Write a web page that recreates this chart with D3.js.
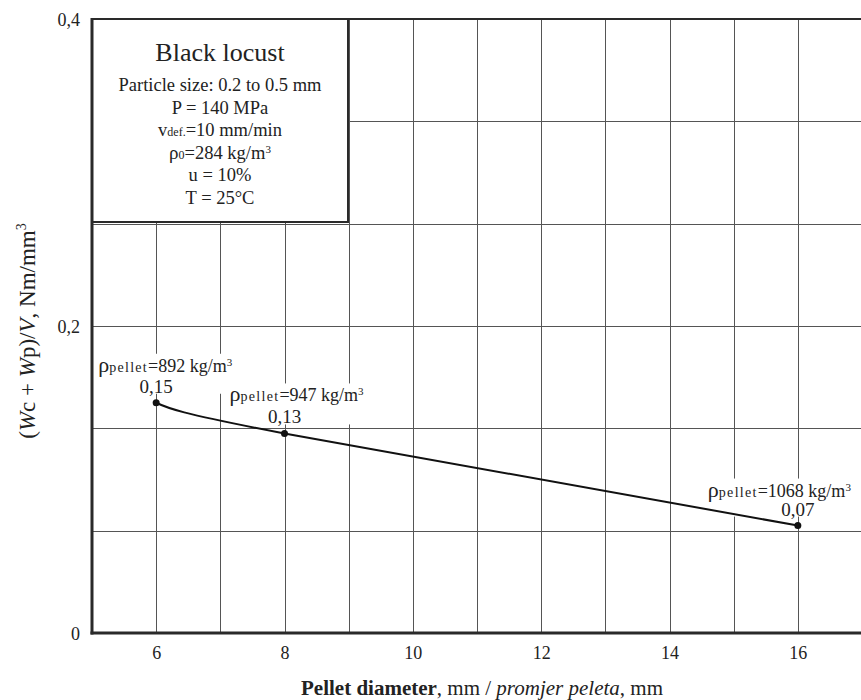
<!DOCTYPE html>
<html>
<head>
<meta charset="utf-8">
<script src="https://cdn.jsdelivr.net/npm/d3@7"></script>
<style>
  html, body { margin: 0; padding: 0; background: #fff; }
  svg { display: block; font-family: "Liberation Serif", "Times New Roman", serif; }
</style>
</head>
<body>
<svg id="chart" width="861" height="700"></svg>
<script>
// Pellet diameter (mm) and specific energy (Nm/mm³)
const diameters = [6, 8, 16];
const energies = [0.15, 0.13, 0.07];
const densities = ["892", "947", "1068"];
const valueLabels = ["0,15", "0,13", "0,07"];

const xTicks = [6, 8, 10, 12, 14, 16];
const yTicks = [0, 0.2, 0.4];
const yTickLabels = ["0", "0,2", "0,4"];

const infoTitle = "Black locust";
const infoLines = [
  [{t: "Particle size: 0.2 to 0.5 mm"}],
  [{t: "P = 140 MPa"}],
  [{t: "v", fs: 18.5}, {t: "def.", fs: 12}, {t: "=10 mm/min"}],
  [{t: "ρ", fs: 19}, {t: "0", fs: 12}, {t: "=284 kg/m"}, {t: "3", fs: 11, dy: -6}],
  [{t: "u = 10%"}],
  [{t: "T = 25°C"}]
];

const svg = d3.select("#chart");
const m = {left: 92, top: 19, bottom: 633, right: 862};

const x = d3.scaleLinear().domain([5, 17]).range([m.left, m.right]);
const y = d3.scaleLinear().domain([0, 0.4]).range([m.bottom, m.top]);

// grid: every 1 mm horizontally, every 0.4/6 vertically
const gx = d3.range(6, 17, 1);
const gy = d3.range(1, 6).map(i => i * 0.4 / 6);
const grid = svg.append("g").attr("stroke", "#555").attr("stroke-width", 1);
grid.selectAll("line.v").data(gx).join("line").attr("class", "v")
  .attr("x1", d => Math.round(x(d)) + 0.5).attr("x2", d => Math.round(x(d)) + 0.5)
  .attr("y1", m.top).attr("y2", m.bottom);
grid.selectAll("line.h").data(gy).join("line").attr("class", "h")
  .attr("x1", m.left).attr("x2", m.right)
  .attr("y1", d => Math.round(y(d)) + 0.5).attr("y2", d => Math.round(y(d)) + 0.5);

// frame: top border
svg.append("line").attr("x1", m.left).attr("x2", m.right).attr("y1", m.top).attr("y2", m.top)
  .attr("stroke", "#2a2a2a").attr("stroke-width", 2);

// info box
const box = svg.append("g");
box.append("rect").attr("x", m.left).attr("y", m.top).attr("width", 348 - m.left).attr("height", 222 - m.top)
  .attr("fill", "#fff").attr("stroke", "#2a2a2a").attr("stroke-width", 2);
const bcx = (m.left + 348) / 2;
box.append("text").attr("x", bcx).attr("y", 61).attr("text-anchor", "middle")
  .attr("font-size", 26).attr("fill", "#222").text(infoTitle);
infoLines.forEach((parts, i) => {
  const t = box.append("text").attr("x", bcx).attr("y", 91 + i * 22.5)
    .attr("text-anchor", "middle").attr("font-size", 18.5).attr("fill", "#222");
  parts.forEach(p => {
    const s = t.append("tspan").text(p.t);
    if (p.fs) s.attr("font-size", p.fs);
    if (p.dy) s.attr("dy", p.dy);
  });
});

// axes
const xAxis = svg.append("g").attr("transform", `translate(0,${m.bottom})`)
  .call(d3.axisBottom(x).tickValues(xTicks).tickSize(0).tickPadding(0));
xAxis.select(".domain").attr("stroke", "#2a2a2a").attr("stroke-width", 3)
  .attr("d", `M${m.left - 1.5},0H${m.right}`);
xAxis.selectAll("text").attr("font-size", 18).attr("fill", "#222")
  .attr("font-family", "Liberation Serif, serif").attr("y", 26).attr("dy", 0);

const yAxis = svg.append("g").attr("transform", `translate(${m.left},0)`)
  .call(d3.axisLeft(y).tickValues(yTicks).tickFormat((d, i) => yTickLabels[i]).tickSize(0).tickPadding(0));
yAxis.select(".domain").attr("stroke", "#2a2a2a").attr("stroke-width", 3)
  .attr("d", `M0,${m.top - 1}V${m.bottom + 1.5}`);
yAxis.selectAll("text").attr("font-size", 18).attr("fill", "#222")
  .attr("font-family", "Liberation Serif, serif").attr("x", -12).attr("dy", "0.35em");

// axis titles
const yt = svg.append("text").attr("transform", "translate(35,331) rotate(-90)")
  .attr("text-anchor", "middle").attr("font-size", 23).attr("fill", "#222");
yt.append("tspan").text("(");
yt.append("tspan").attr("font-style", "italic").text("W");
yt.append("tspan").text("c + ");
yt.append("tspan").attr("font-style", "italic").text("W");
yt.append("tspan").text("p)/");
yt.append("tspan").attr("font-style", "italic").text("V");
yt.append("tspan").text(", Nm/mm");
yt.append("tspan").attr("font-size", 14).attr("dy", -9).text("3");

const xt = svg.append("text").attr("x", 482).attr("y", 695)
  .attr("text-anchor", "middle").attr("font-size", 21).attr("fill", "#222");
xt.append("tspan").attr("font-weight", "bold").text("Pellet diameter");
xt.append("tspan").text(", mm / ");
xt.append("tspan").attr("font-style", "italic").text("promjer peleta");
xt.append("tspan").text(", mm");

// point labels: density line above value line, on white backing (drawn under the curve)
const pts = diameters.map((d, i) => [d, energies[i]]);
const labelDx = [-58, -55, -90];
const labelDy = [-31, -32, -29];
const labelLayer = svg.append("g");
pts.forEach((p, i) => {
  const px = x(p[0]), py = y(p[1]);
  const g = labelLayer.append("g");
  const bg = g.append("rect").attr("fill", "#fff");
  const t1 = g.append("text").attr("x", px + labelDx[i]).attr("y", py + labelDy[i])
    .attr("font-size", 18).attr("fill", "#222");
  t1.append("tspan").attr("font-size", 22).text("ρ");
  t1.append("tspan").attr("font-size", 14).attr("letter-spacing", 1.3).text("pellet");
  t1.append("tspan").text("=" + densities[i] + " kg/m");
  t1.append("tspan").attr("font-size", 11).attr("dy", -6).text("3");
  const t2 = g.append("text").attr("x", px).attr("y", py - 10)
    .attr("text-anchor", "middle").attr("font-size", 19).attr("fill", "#222").text(valueLabels[i]);
  const b1 = t1.node().getBBox(), b2 = t2.node().getBBox();
  const x0 = Math.min(b1.x, b2.x), x1 = Math.max(b1.x + b1.width, b2.x + b2.width);
  bg.attr("x", x0).attr("y", b1.y + 2).attr("width", x1 - x0).attr("height", b2.y + b2.height - b1.y - 5);
});

// curve through the measured points
svg.append("path").datum(pts)
  .attr("fill", "none").attr("stroke", "#111").attr("stroke-width", 2)
  .attr("d", d3.line().x(d => x(d[0])).y(d => y(d[1])).curve(d3.curveNatural));
svg.selectAll("circle.pt").data(pts).join("circle").attr("class", "pt")
  .attr("cx", d => x(d[0])).attr("cy", d => y(d[1])).attr("r", 3.5).attr("fill", "#111");
</script>
</body>
</html>
